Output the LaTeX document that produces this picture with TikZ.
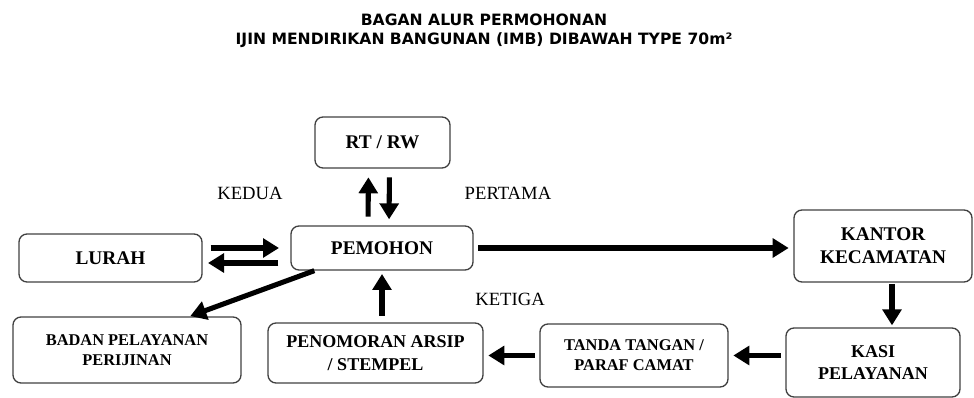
\documentclass[tikz,border=0pt]{standalone}
\usepackage{fontspec}
\setmainfont{Liberation Serif}
\newfontfamily\judulfont{DejaVu Sans}
\usetikzlibrary{arrows.meta}

\begin{document}
\begin{tikzpicture}[x=0.75pt,y=-0.75pt,>={Triangle[length=12pt,width=14pt]},
		kotak/.style={draw=black!75,line width=1pt,rounded corners=6pt,align=center,inner sep=0pt,
			font=\bfseries\fontsize{14.5}{17.25}\selectfont},
		kecil/.style={font=\bfseries\fontsize{12.3}{15}\selectfont},
		sedang/.style={font=\bfseries\fontsize{13.5}{17}\selectfont},
		panah/.style={->,line width=3.8pt,shorten <=3.5pt,shorten >=3.5pt},
		ket/.style={font=\fontsize{14}{16}\selectfont}]
	\useasboundingbox (0,0) rectangle (974,398);
	\node[align=center,font=\judulfont\bfseries\fontsize{11.7}{14.25}\selectfont] (judul) at (484,31)
		{BAGAN ALUR PERMOHONAN\\IJIN MENDIRIKAN BANGUNAN (IMB) DIBAWAH TYPE 70m²};
	\node[kotak,minimum width=101.25pt,minimum height=38.25pt] (rtrw) at (382.5,142.5) {RT / RW};
	\node[kotak,minimum width=136.5pt,minimum height=33pt] (pemohon) at (382,248) {PEMOHON};
	\node[kotak,minimum width=137.25pt,minimum height=36pt] (lurah) at (110.5,258) {LURAH};
	\node[kotak,minimum width=133.5pt,minimum height=54pt] (kantor) at (883,246) {KANTOR\\KECAMATAN};
	\node[kotak,sedang,minimum width=130.5pt,minimum height=51.75pt] (kasi) at (873,362.5) {KASI\\PELAYANAN};
	\node[kotak,kecil,minimum width=141pt,minimum height=47.25pt] (tanda) at (634,355.5) {TANDA TANGAN /\\PARAF CAMAT};
	\node[kotak,sedang,minimum width=161.25pt,minimum height=45pt] (arsip) at (375.5,353) {PENOMORAN ARSIP\\/ STEMPEL};
	\node[kotak,kecil,minimum width=171pt,minimum height=49.5pt] (badan) at (127,350) {BADAN PELAYANAN\\PERIJINAN};
	\node[ket] (kedua) at (250,193) {KEDUA};
	\node[ket] (pertama) at (508,193) {PERTAMA};
	\node[ket] (ketiga) at (510,299) {KETIGA};
	\draw[panah,shorten <=6.5pt,shorten >=6.5pt] ([xshift=-10.5pt]pemohon.north) -- ([xshift=-10.5pt]rtrw.south);
	\draw[panah,shorten <=6.5pt,shorten >=4.5pt] ([xshift=5.25pt]rtrw.south) -- ([xshift=5.25pt]pemohon.north);
	\draw[panah,shorten <=6pt,shorten >=8.5pt] (lurah.east |- pemohon.west) -- (pemohon.west);
	\draw[panah,shorten <=9pt,shorten >=4pt] ([yshift=-11.25pt]pemohon.west) -- ([yshift=-3.75pt]lurah.east);
	\draw[panah] (pemohon.east) -- (pemohon.east -| kantor.west);
	\path ([xshift=6.75pt]kantor.south) coordinate (k1);
	\draw[panah,shorten <=1pt,shorten >=1.5pt] (k1) -- (k1 |- kasi.north);
	\draw[panah] (kasi.west |- tanda.east) -- (tanda.east);
	\draw[panah] (tanda.west) -- (tanda.west -| arsip.east);
	\draw[panah,shorten <=5pt,shorten >=2.5pt] (arsip.north -| pemohon.south) -- (pemohon.south);
	\draw[panah,shorten <=0pt,shorten >=0.5pt] ([xshift=18pt]pemohon.south west) -- ([xshift=47pt]badan.north);
\end{tikzpicture}
\end{document}
